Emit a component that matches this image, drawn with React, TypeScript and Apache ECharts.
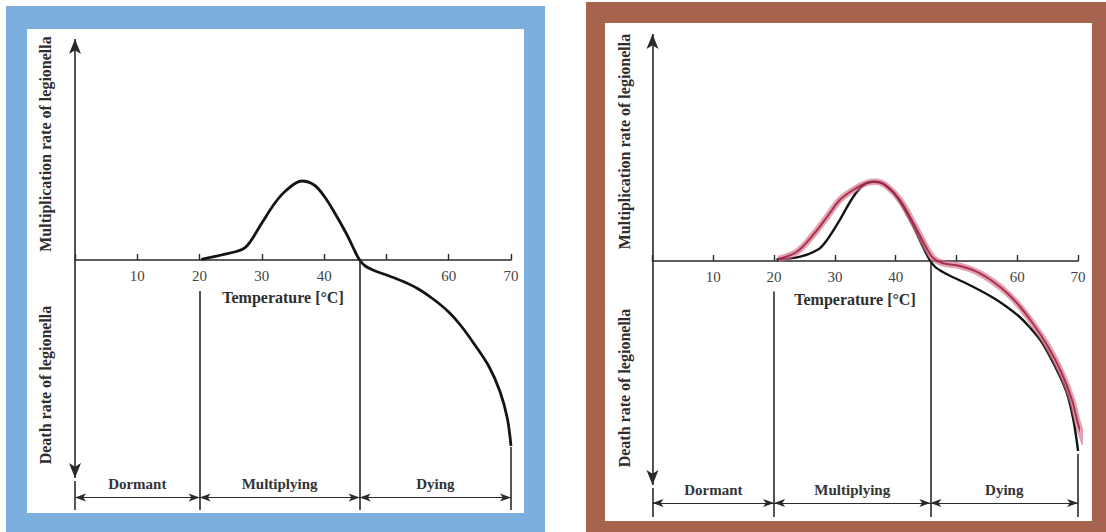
import React, { useEffect, useRef } from 'react';
import * as echarts from 'echarts';

// ---- data ----
const hiddenTickLabels = [0, 50];
const zoneEdges = [0, 20, 45.7, 70];
const zoneNames = ['Dormant', 'Multiplying', 'Dying'];

// left panel curve (temperature °C, rate: + multiplication / - death, arbitrary units)
const leftTemp = [20.3, 23.5, 26.9, 28.1, 30.1, 32.1, 33.8, 36.4, 38.4, 40.1, 41.8, 43.6, 45, 45.7, 46.6, 48, 50, 52.5, 55, 57.5, 60, 62, 64.2, 66.5, 68.2, 69.4, 70];
const leftRate = [0.7, 5, 10.7, 18, 38, 57, 69, 79, 75, 63, 46, 26, 8, 0, -6, -10.5, -15, -21, -28.5, -39, -52, -66, -85, -107, -131, -158, -186];

// right panel, black (original) curve
const rightBlackTemp = [20.4, 24.3, 27.3, 28.7, 30.8, 33, 34.7, 36.3, 38, 40.2, 42.4, 44.5, 45.6, 46.5, 47.6, 49, 52.8, 56.1, 58.3, 60.4, 62, 63.9, 66.1, 68.1, 69.2, 70];
const rightBlackRate = [1.5, 4.3, 11.7, 21, 41, 64, 76, 79.3, 77, 64, 41, 14, 1, -6, -10.5, -15, -26, -37, -46, -56, -66, -80, -104, -131, -158, -190];

// right panel, red (traced) curve
const rightRedTemp = [20.7, 23.7, 26.4, 28.7, 30.8, 33, 35.2, 36.8, 38.5, 40.7, 42.9, 45.1, 46.2, 47.8, 50.6, 53.3, 56.1, 58.5, 60.5, 62.5, 65, 67.3, 69, 70, 71.1];
const rightRedRate = [2, 9, 26, 44, 61, 71, 78, 79.3, 75, 61, 38, 12.7, 2.7, -2.3, -5, -10.7, -21, -33, -46, -62, -85, -112, -139, -163, -183];

const zip = (xs: number[], ys: number[]) => xs.map((x, i) => [x, ys[i]]);

const SERIF = "'Liberation Serif', 'DejaVu Serif', serif";

type Panel = {
  gridLeft: number;
  gridTop: number;
  gridWidth: number;
  gridHeight: number;
  zeroY: number;
  yMin: number;
  yMax: number;
  arrowTop: number;
  arrowBottom: number;
  edgeTops: number[];
  edgeBottom: number;
  dimY: number;
};

const leftPanel: Panel = {
  gridLeft: 75, gridTop: 35, gridWidth: 436, gridHeight: 480, zeroY: 260, yMin: -255, yMax: 225,
  arrowTop: 221, arrowBottom: -218, edgeTops: [-221, -31, 0, -187], edgeBottom: -250, dimY: -237.6,
};
const rightPanel: Panel = {
  gridLeft: 652.5, gridTop: 31, gridWidth: 425.6, gridHeight: 492, zeroY: 261, yMin: -262, yMax: 230,
  arrowTop: 227, arrowBottom: -224, edgeTops: [-227, -30.5, 0, -193], edgeBottom: -256, dimY: -242,
};

function buildMarkLine(p: Panel) {
  const data: any[] = [];
  data.push([
    { coord: [0, p.arrowTop], symbol: 'arrow', symbolSize: [9, 15] },
    { coord: [0, p.arrowBottom], symbol: 'arrow', symbolSize: [9, 15] },
  ]);
  zoneEdges.forEach((t, i) => {
    data.push([
      { coord: [t, p.edgeTops[i]], symbol: 'none' },
      { coord: [t, p.edgeBottom], symbol: 'none' },
    ]);
  });
  zoneNames.forEach((name, i) => {
    data.push([
      {
        coord: [zoneEdges[i], p.dimY],
        symbol: 'arrow',
        symbolSize: [6, 11],
        lineStyle: { width: 1.2 },
        label: {
          show: true,
          formatter: name,
          position: 'middle',
          distance: 6,
          fontFamily: SERIF,
          fontWeight: 'bold',
          fontSize: 15,
          color: '#333',
        },
      },
      { coord: [zoneEdges[i + 1], p.dimY], symbol: 'arrow', symbolSize: [6, 11] },
    ]);
  });
  return {
    silent: true,
    animation: false,
    symbol: ['none', 'none'],
    label: { show: false },
    emphasis: { disabled: true },
    lineStyle: { type: 'solid', color: '#2a2a2a', width: 1.6 },
    data,
  };
}

function xAxisFor(gridIndex: number) {
  return {
    gridIndex,
    type: 'value',
    min: 0,
    max: 70,
    interval: 10,
    axisLine: { show: true, onZero: true, lineStyle: { color: '#2a2a2a', width: 1.6 } },
    axisTick: { show: true, inside: true, length: 6, lineStyle: { color: '#2a2a2a', width: 1.4 } },
    axisLabel: { show: false },
    splitLine: { show: false },
  };
}

// label-only axis whose grid ends exactly on the zero line
function xLabelAxisFor(gridIndex: number) {
  return {
    gridIndex,
    type: 'value',
    position: 'bottom',
    min: 0,
    max: 70,
    interval: 10,
    axisLine: { show: false, onZero: false },
    axisTick: { show: false },
    axisLabel: {
      margin: 8,
      fontFamily: SERIF,
      fontSize: 15,
      color: '#444',
      formatter: (v: number) => (hiddenTickLabels.includes(v) ? '' : String(v)),
    },
    splitLine: { show: false },
  };
}

function yAxisFor(gridIndex: number, min: number, max: number) {
  return {
    gridIndex,
    type: 'value',
    min,
    max,
    axisLine: { show: false },
    axisTick: { show: false },
    axisLabel: { show: false },
    splitLine: { show: false },
  };
}

function label(text: string, x: number, y: number, size: number, rotate = false) {
  return {
    type: 'text',
    x,
    y,
    rotation: rotate ? Math.PI / 2 : 0,
    silent: true,
    z: 5,
    style: {
      text,
      fontFamily: SERIF,
      fontWeight: 'bold',
      fontSize: size,
      fill: '#2e2e2e',
      textAlign: 'center',
      textVerticalAlign: 'middle',
    },
  };
}

export default function App() {
  const ref = useRef<HTMLDivElement>(null);
  useEffect(() => {
    if (!ref.current) return;
    const chart = echarts.init(ref.current, undefined, { renderer: 'svg' });
    const grid = (p: Panel) => ({
      left: p.gridLeft, top: p.gridTop, width: p.gridWidth, height: p.gridHeight,
      containLabel: false, outerBoundsMode: 'none',
    });
    const labelGrid = (p: Panel) => ({
      left: p.gridLeft, top: p.gridTop, width: p.gridWidth, height: p.zeroY - p.gridTop,
      containLabel: false, outerBoundsMode: 'none',
    });
    chart.setOption({
      animation: false,
      backgroundColor: '#ffffff',
      grid: [grid(leftPanel), grid(rightPanel), labelGrid(leftPanel), labelGrid(rightPanel)],
      xAxis: [xAxisFor(0), xAxisFor(1), xLabelAxisFor(2), xLabelAxisFor(3)],
      yAxis: [
        yAxisFor(0, leftPanel.yMin, leftPanel.yMax),
        yAxisFor(1, rightPanel.yMin, rightPanel.yMax),
        yAxisFor(2, 0, 1),
        yAxisFor(3, 0, 1),
      ],
      graphic: [
        { type: 'rect', z: -10, silent: true, shape: { x: 6, y: 6, width: 539, height: 526 }, style: { fill: '#7caede' } },
        { type: 'rect', z: -9, silent: true, shape: { x: 27, y: 29, width: 497, height: 484 }, style: { fill: '#ffffff' } },
        { type: 'rect', z: -10, silent: true, shape: { x: 586, y: 2, width: 520, height: 530 }, style: { fill: '#a6644e' } },
        { type: 'rect', z: -9, silent: true, shape: { x: 605, y: 23, width: 487, height: 498 }, style: { fill: '#ffffff' } },
        label('Multiplication rate of legionella', 45.5, 144, 16, true),
        label('Death rate of legionella', 45.5, 385, 16, true),
        label('Temperature [°C]', 283, 297.5, 16),
        label('Multiplication rate of legionella', 624.5, 141.5, 16, true),
        label('Death rate of legionella', 624.5, 388, 16, true),
        label('Temperature [°C]', 855, 299, 16),
      ],
      series: [
        {
          type: 'line',
          xAxisIndex: 0,
          yAxisIndex: 0,
          data: zip(leftTemp, leftRate),
          smooth: 0.35,
          symbol: 'none',
          clip: false,
          lineStyle: { color: '#141414', width: 2.8 },
          z: 3,
          markLine: buildMarkLine(leftPanel),
        },
        {
          type: 'line',
          xAxisIndex: 1,
          yAxisIndex: 1,
          data: zip(rightBlackTemp, rightBlackRate),
          smooth: 0.35,
          symbol: 'none',
          clip: false,
          lineStyle: { color: '#141414', width: 2.4 },
          z: 3,
          markLine: buildMarkLine(rightPanel),
        },
        {
          type: 'line',
          xAxisIndex: 1,
          yAxisIndex: 1,
          data: zip(rightRedTemp, rightRedRate),
          smooth: 0.35,
          symbol: 'none',
          clip: false,
          lineStyle: { color: '#d4708c', width: 6.5, opacity: 0.65 },
          z: 4,
        },
        {
          type: 'line',
          xAxisIndex: 1,
          yAxisIndex: 1,
          data: zip(rightRedTemp, rightRedRate),
          smooth: 0.35,
          symbol: 'none',
          clip: false,
          lineStyle: { color: '#9e1f3c', width: 2, opacity: 0.85 },
          z: 5,
        },
      ],
    });
    return () => chart.dispose();
  }, []);
  return (
    <div
      ref={ref}
      style={{ position: 'fixed', left: 0, top: 0, width: 1106, height: 532 }}
    />
  );
}
